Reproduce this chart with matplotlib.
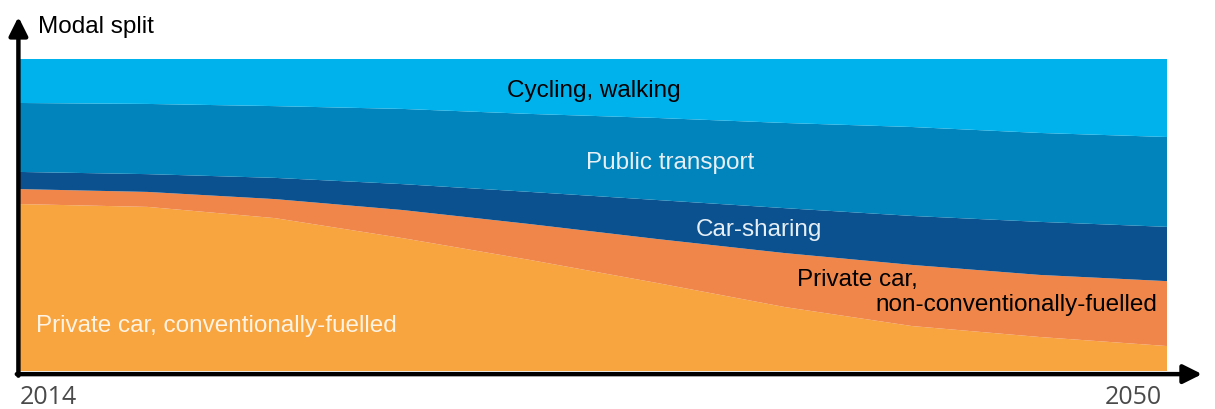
import matplotlib
matplotlib.use("Agg")
import matplotlib.pyplot as plt

# modal split shares (%)
years = [2014, 2018, 2022, 2026, 2030, 2034, 2038, 2042, 2046, 2050]
conventional = [53.5, 52.6, 49.0, 42.6, 35.6, 28.2, 20.5, 14.4, 10.9, 8.0]
non_conventional = [4.8, 4.8, 6.1, 9.0, 11.5, 14.1, 17.3, 19.6, 19.9, 20.8]
car_sharing = [5.5, 5.7, 6.8, 8.3, 10.3, 12.5, 14.4, 15.7, 17.0, 17.4]
public_transport = [22.1, 22.5, 23.0, 24.1, 25.0, 26.3, 27.3, 28.5, 28.5, 28.8]
cycling_walking = [14.1, 14.4, 15.1, 16.0, 17.6, 18.9, 20.5, 21.8, 23.7, 25.0]

colors = ["#f8a43f", "#f0864a", "#0b5190", "#0084bb", "#00b2ec"]

plt.rcParams["font.family"] = ["Liberation Sans", "DejaVu Sans"]

fig = plt.figure(figsize=(12.15, 4.10), dpi=100)
W, H = 1215, 410
ax = fig.add_axes([20 / W, (H - 372) / H, (1167 - 20) / W, (372 - 60) / H])

ax.stackplot(years, conventional, non_conventional, car_sharing,
             public_transport, cycling_walking, colors=colors, lw=0)
ax.set_xlim(2014, 2050)
ax.set_ylim(0, 100)
ax.axis("off")

# axis arrows
arrow = dict(arrowstyle="-|>", lw=3.2, color="black", mutation_scale=28,
             shrinkA=0, shrinkB=0)
ax.annotate("", xy=(2013.95, 113.5), xytext=(2013.95, -1.5),
            arrowprops=arrow, annotation_clip=False)
ax.annotate("", xy=(2051.1, -1.0), xytext=(2013.9, -1.0),
            arrowprops=arrow, annotation_clip=False)

fs = 17.5
ax.text(2032.0, 90.1, "Cycling, walking", fontsize=fs, color="black",
        ha="center", va="center")
ax.text(2034.4, 67.0, "Public transport", fontsize=fs, color="#e6eff5",
        ha="center", va="center")
ax.text(2037.2, 45.5, "Car-sharing", fontsize=fs, color="#e6eff5",
        ha="center", va="center")
ax.text(2038.4, 29.5, "Private car,", fontsize=fs, color="black",
        ha="left", va="center")
ax.text(2049.7, 21.5, "non-conventionally-fuelled", fontsize=fs,
        color="black", ha="right", va="center")
ax.text(2014.5, 14.7, "Private car, conventionally-fuelled", fontsize=fs,
        color="#fff3e3", ha="left", va="center")

fig.text(38 / W, 1 - 27 / H, "Modal split", fontsize=17.5, color="black",
         ha="left", va="center")
fig.text(20 / W, 1 - 398 / H, "2014", fontsize=18, color="#4a4a4a",
         family="Open Sans", ha="left", va="center")
fig.text(1162 / W, 1 - 398 / H, "2050", fontsize=18, color="#4a4a4a",
         family="Open Sans", ha="right", va="center")

fig.savefig("out.png", dpi=100, facecolor="white")
